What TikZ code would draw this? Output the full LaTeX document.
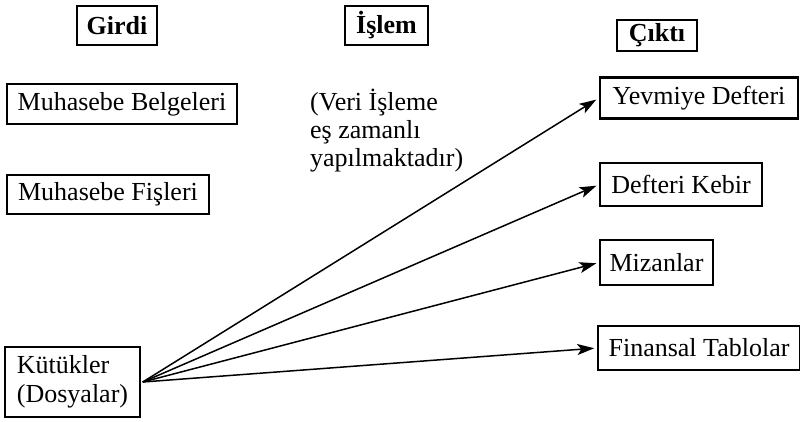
\documentclass[tikz,border=0pt]{standalone}
\usepackage{fontspec}
\setmainfont{Liberation Serif}
\usetikzlibrary{arrows.meta}
\begin{document}
\begin{tikzpicture}[x=1pt,y=-1pt,
  box/.style={draw,line width=1.5pt,inner sep=0pt,font=\fontsize{26}{29}\selectfont},
  head/.style={box,font=\fontsize{26}{29}\selectfont\bfseries},
  flow/.style={line width=1.5pt,-{Stealth[length=17pt,width=11pt,inset=4pt]},shorten >=3pt}]
\useasboundingbox (0,0) rectangle (800,421);

% column headings
\node[head,minimum width=80pt,minimum height=39pt] (girdi) at (117,25.5) {Girdi};
\node[head,minimum width=83pt,minimum height=39pt] (islem) at (386.5,25.5) {İşlem};
\node[head,minimum width=80pt,minimum height=31pt] (cikti) at (657,35.5) {Çıktı};

% inputs
\node[box,minimum width=230pt,minimum height=40pt] (belge) at (122,104) {Muhasebe Belgeleri};
\node[box,minimum width=202pt,minimum height=39pt] (fis) at (108,194.5) {Muhasebe Fişleri};
\node[box,minimum width=135pt,minimum height=70pt,align=left] (kutuk) at (72.5,382)
  {Kütükler\\(Dosyalar)};

% processing note (anchored on the baseline of its last line)
\node[anchor=base west,inner sep=0pt,align=left,font=\fontsize{26}{28}\selectfont] (veri) at (310,166)
  {(Veri İşleme\\eş zamanlı\\yapılmaktadır)};

% outputs
\node[box,line width=2.3pt,minimum width=198pt,minimum height=41pt] (yevmiye) at (699,98) {Yevmiye Defteri};
\node[box,minimum width=162pt,minimum height=43pt] (kebir) at (681,184.5) {Defteri Kebir};
\node[box,minimum width=113pt,minimum height=45pt] (mizan) at (656.5,262.5) {Mizanlar};
\node[box,minimum width=202pt,minimum height=44pt] (finans) at (699,348) {Finansal Tablolar};

% connectors from the files to every output
\coordinate (src) at ([xshift=2pt]kutuk.east);
\draw[flow] (src) -- (yevmiye.west);
\draw[flow] (src) -- (kebir.west);
\draw[flow] (src) -- (mizan.west);
\draw[flow] (src) -- (finans.west);
\end{tikzpicture}
\end{document}
